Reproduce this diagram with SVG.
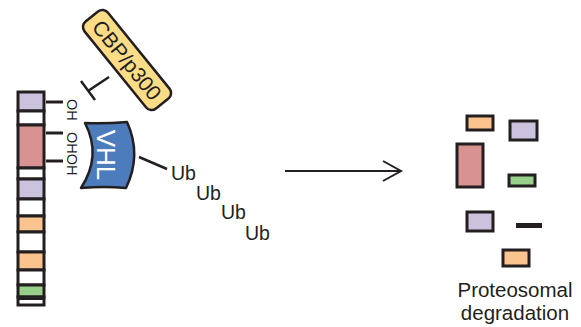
<svg xmlns="http://www.w3.org/2000/svg" width="581" height="327" viewBox="0 0 581 327">
<style>
.ln{stroke:#231f20;fill:none;stroke-linecap:butt}
.seg{stroke:#231f20;stroke-width:3}
.pu{fill:#cbc3dd}.pk{fill:#d99292}.or{fill:#fbc48f}.gr{fill:#98d08b}.wh{fill:#ffffff}.bk{fill:#231f20}
.t{font-family:"Liberation Sans",Arial,sans-serif;fill:#231f20}
</style>
<rect width="581" height="327" fill="#ffffff"/>
<g id="protein-bar">
<rect class="seg pu" x="18" y="92" width="26" height="19"/>
<rect class="seg wh" x="18" y="111" width="26" height="14"/>
<rect class="seg pk" x="18" y="125" width="26" height="43"/>
<rect class="seg wh" x="18" y="168" width="26" height="11"/>
<rect class="seg pu" x="18" y="179" width="26" height="20"/>
<rect class="seg wh" x="18" y="199" width="26" height="17"/>
<rect class="seg or" x="18" y="216" width="26" height="16"/>
<rect class="seg wh" x="18" y="232" width="26" height="20"/>
<rect class="seg or" x="18" y="252" width="26" height="18"/>
<rect class="seg wh" x="18" y="270" width="26" height="15"/>
<rect class="seg gr" x="18" y="285" width="26" height="12"/>
<rect class="seg wh" x="18" y="297" width="26" height="8"/>
<rect class="bk" x="18" y="296" width="26" height="4"/>
</g>
<g id="hydroxyls">
<line class="ln" x1="46" y1="102" x2="63" y2="102" stroke-width="3"/>
<line class="ln" x1="46" y1="133" x2="63" y2="133" stroke-width="3"/>
<line class="ln" x1="46" y1="161" x2="63" y2="161" stroke-width="3"/>
<text class="t" font-size="14.5" transform="translate(66.5,99) rotate(90)">OH</text>
<text class="t" font-size="14.5" transform="translate(66.5,132) rotate(90)">OHOH</text>
</g>
<g id="cbp-p300">
<rect x="-56" y="-15" width="112" height="30" rx="7" fill="#fcdc87" stroke="#231f20" stroke-width="2.5" transform="translate(127,60) rotate(51)"/>
<text class="t" font-size="21" text-anchor="middle" transform="translate(127,60) rotate(51)" y="7.5">CBP/p300</text>
</g>
<g id="vhl">
<path d="M85,123 Q105,124 127,122 Q142,155 126,188 Q104,186 81,188 Q102,156 85,123 Z" fill="#4d7cbd" stroke="#231f20" stroke-width="2.5" stroke-linejoin="round"/>
<text font-family="Liberation Sans,Arial,sans-serif" font-size="26" fill="#ffffff" text-anchor="middle" transform="translate(97,155) rotate(90)">VHL</text>
</g>
<g id="ubiquitin">
<text class="t" font-size="19.5" x="171" y="180">Ub</text>
<text class="t" font-size="19.5" x="196" y="200">Ub</text>
<text class="t" font-size="19.5" x="221" y="219">Ub</text>
<text class="t" font-size="19.5" x="245" y="240">Ub</text>
</g>
<g id="degradation">
<rect class="seg or" x="467" y="116" width="26" height="14"/>
<rect class="seg pu" x="510" y="121" width="27" height="19"/>
<rect class="seg pk" x="457" y="144" width="26" height="43"/>
<rect class="seg gr" x="509" y="175" width="26" height="11"/>
<rect class="seg pu" x="467" y="212" width="26" height="19"/>
<rect class="bk" x="516" y="223" width="26" height="5"/>
<rect class="seg or" x="503" y="250" width="26" height="16"/>
<text class="t" font-size="20.5" text-anchor="middle" x="515" y="297">Proteosomal</text>
<text class="t" font-size="20.5" text-anchor="middle" x="515" y="320">degradation</text>
</g>
<g id="connectors">
<line class="ln" x1="109" y1="77" x2="88" y2="91" stroke-width="2.5"/>
<line class="ln" x1="81" y1="81" x2="95" y2="100" stroke-width="2.5"/>
<line class="ln" x1="139" y1="157" x2="167" y2="169" stroke-width="2.5"/>
<line class="ln" x1="285" y1="171" x2="400" y2="171" stroke-width="2"/>
<polyline class="ln" points="383,161 401,171 383,181" stroke-width="2"/>
</g>
</svg>
